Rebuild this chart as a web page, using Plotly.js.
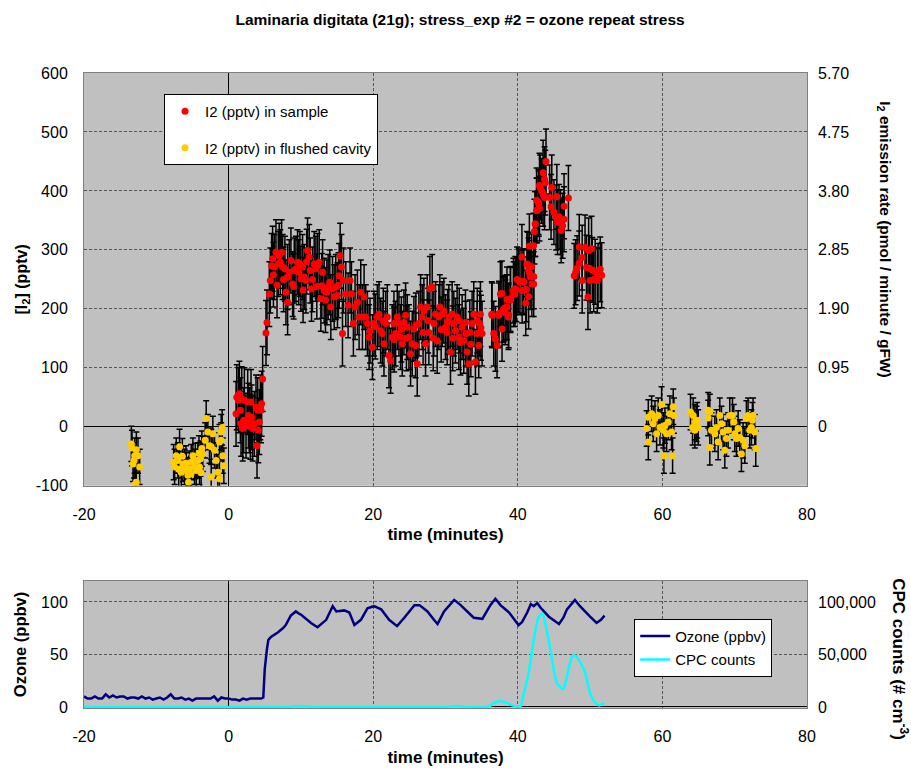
<!DOCTYPE html>
<html><head><meta charset="utf-8">
<script src="https://cdn.plot.ly/plotly-3.0.1.min.js"></script>
<style>html,body{margin:0;padding:0;background:#fff}#chart{width:911px;height:768px}</style>
</head><body><div id="chart"></div>
<script>
const FONT = '"Liberation Sans", Arial, sans-serif';

// ---- I2 in sample (pptv) ----
const sampleTime = [
 1.03,1.13,1.36,1.49,1.63,1.72,1.82,1.95,2.09,2.18,2.41,2.64,2.74,2.87,3.01,3.10,3.19,3.33,3.56,3.79,3.93,4.02,4.11,4.25,4.39,4.48,4.57,4.71,
 5.17,5.31,5.63,5.77,5.95,6.09,6.32,6.55,6.87,7.15,7.33,7.47,7.79,7.93,8.16,8.16,8.62,8.85,9.08,9.31,9.54,9.86,10.0,10.23,10.46,10.69,10.92,11.15,11.29,11.47,11.84,12.07,12.30,12.53,12.76,12.90,13.22,13.59,13.77,14.14,14.37,14.83,15.06,15.29,15.43,15.61,15.75,15.89,16.21,16.53,16.80,16.99,17.26,17.49,17.82,18.05,18.28,18.51,18.74,18.97,19.20,19.43,19.56,19.89,20.11,20.57,20.80,21.03,21.26,21.49,21.72,21.95,
 22.18,22.41,22.64,22.87,23.10,23.33,23.56,23.79,24.02,24.25,24.48,24.71,24.94,25.17,25.40,25.63,25.86,26.09,26.32,26.55,26.78,27.01,27.24,27.47,27.70,27.84,28.16,28.39,28.62,28.85,29.08,29.22,29.54,29.77,30.00,30.23,30.46,30.69,30.92,31.15,31.38,31.61,31.84,32.07,32.30,32.53,32.76,32.99,33.22,33.36,33.68,33.91,34.14,34.37,34.60,34.74,34.83,35.06,
 36.44,36.67,36.90,37.13,37.36,37.59,37.82,38.05,38.28,38.51,38.74,38.97,39.43,39.66,40.11,40.57,40.80,41.26,41.49,41.72,41.95,42.18,42.41,42.64,42.87,43.10,
 43.9,43.5,43.7,43.8,43.0,43.3,43.5,43.7,44.4,44.7,45.4,42.6,42.9,42.6,43.0,44.6,45.0,45.3,45.7,46.4,45.9,45.5,46.2,46.0,47.0,46.4,42.4,42.3,41.6,
 48.5,49.3,49.8,50.2,48.9,48.5,48.2,48.0,47.8,49.5,49.9,50.3,50.7,51.4,51.6,51.1,50.5,51.0,50.0,48.9,49.7,
 39.9,40.3,40.8,39.8,40.6,41.2,39.4,39.6,41.5,41.1,37.8,38.5,39.0,38.3,38.0,38.7,37.4,36.4,41.4,41.9,41.6,42.2,42.2,
 6.2,6.7,7.0,7.6,8.4,9.0,9.7,10.3,10.8,11.6,12.2,13.0,13.4,14.0,14.6,15.2,
 20.3,21.4,22.9,23.9,24.6,25.9,26.9,27.6,28.3,29.4,30.3,31.0,31.9,32.8,33.5,34.4,34.9
];
const sampleI2 = [
 22,50,45,56,28,5,47,-3,11,45,2,42,19,11,0,42,16,-3,5,33,-32,28,-6,8,33,28,39,81,
 159,177,225,248,273,285,271,296,276,279,296,271,268,228,254,211,282,242,265,268,279,276,251,271,254,248,299,288,265,234,276,268,273,279,217,239,231,228,237,203,234,237,223,256,290,271,158,248,225,206,248,225,175,203,211,186,228,186,220,186,175,152,163,135,175,186,191,163,158,141,175,186,
 121,112,152,175,158,186,175,152,141,177,189,169,152,124,141,166,138,107,175,203,186,197,141,203,160,234,237,175,191,146,186,203,191,197,169,160,186,127,191,175,163,186,152,143,169,146,177,127,107,160,175,191,110,158,138,175,191,158,
 189,158,149,138,189,225,166,200,194,203,189,217,225,234,248,288,245,276,265,254,242,307,344,367,381,406,
 450,431,420,414,409,400,395,389,389,406,390,384,378,367,370,373,364,355,356,352,347,347,341,333,388,374,344,331,306,
 305,304,299,302,287,277,269,262,256,270,269,266,263,267,257,256,250,248,248,248,220,
 250,245,247,233,231,233,231,225,221,210,226,216,215,202,198,186,192,191,275,272,261,255,242,
 258,240,290,250,262,238,262,232,280,250,238,262,215,245,220,240,
 170,180,148,165,150,172,160,180,150,165,178,150,180,158,140,180,168
];
const sampleErr = 55;

// ---- I2 in flushed cavity (pptv) ----
const cavityTime = [
 -13.45,-13.36,-12.76,-12.99,-12.53,-13.08,-13.22,-12.30,-12.76,-12.90,
 -7.47,-7.24,-7.01,-6.78,-6.55,-6.32,-6.09,-5.86,-5.63,-5.54,-5.40,-5.17,-4.94,-4.71,-4.48,-4.25,-4.02,-3.89,-3.70,-3.56,
 -7.6,-6.9,-6.4,-5.9,-5.2,-4.6,-4.1,-3.8,
 -3.24,-3.10,-2.87,-2.64,-2.41,-2.18,-2.41,-1.95,-1.72,-1.49,-1.26,-1.26,-1.03,-0.89,-0.80,-0.66,-1.03,
 57.82,58.05,58.05,58.51,58.74,58.97,59.20,59.43,59.66,59.89,60.12,60.21,60.35,60.58,60.81,61.04,61.27,61.41,61.50,61.59,
 63.89,64.26,64.49,64.72,64.17,64.95,64.49,64.81,
 66.33,66.56,66.33,66.79,67.25,67.48,67.94,68.17,66.56,67.71,68.40,68.63,68.86,69.09,69.32,69.69,69.87,70.01,70.24,70.47,70.70,70.93,71.16,71.39,71.62,71.85,72.08,72.31,72.54,72.77,72.91,72.45
];
const cavityI2 = [
 -29,-36,-39,-49,-49,-57,-63,-68,-94,-97,
 -68,-49,-57,-34,-77,-63,-68,-74,-82,-94,-71,-60,-49,-68,-74,-57,-68,-54,-37,-46,
 -60,-72,-50,-62,-80,-58,-45,-78,
 -23,14,-9,-32,-34,-12,-85,-40,-57,-77,-88,-26,-9,-1,-49,-66,-23,
 -3,16,-26,22,5,14,-12,19,-1,38,-6,-49,2,-12,8,22,-9,-49,34,19,
 25,19,8,5,-1,-1,-6,11,
 28,25,15,-6,-12,-1,19,5,-35,-26,-9,-40,-20,-6,19,19,8,-12,-20,-3,-18,-46,-23,-32,14,19,-6,-1,19,-9,-37,11
];
const cavityErr = 30;

// ---- Ozone (ppbv) ----
const ozoneTime = [
 -20,-19.5,-19,-18.5,-18,-17.5,-17,-16.5,-16,-15.5,-15,-14.5,-14,-13.5,-13,-12.5,-12,-11.5,-11,-10.5,
 -10,-9.5,-9,-8.5,-8,-7.5,-7,-6.5,-6,-5.5,-5,-4.5,-4,-3.5,-3,-2.5,-2,-1.5,-1,-0.5,
 0,0.5,1,1.5,2,2.5,3,3.5,4,4.5,4.8,5.0,5.3,5.5,5.9,6.8,7.5,7.9,8.6,9.3,9.7,
 10.0,11.4,12.3,13.5,14.4,14.9,16.0,16.7,17.4,18.3,19.2,20.1,21.1,22.2,23.3,24.3,25.7,26.4,27.5,28.4,28.9,29.8,
 31.2,32.1,33.0,33.9,35.1,36.2,36.9,37.6,38.8,40.1,40.6,41.3,41.8,42.2,42.7,43.1,44.3,45.7,46.3,46.8,47.9,48.6,50.0,50.9,51.5,52.0
];
const ozonePpbv = [
 10,8,8,10,8,8,12,9,11,9,10,10,8,9,9,8,10,8,9,7,
 8,9,7,9,12,8,8,9,7,8,6,8,8,8,8,8,10,6,9,8,
 8,7,7,6,8,7,8,8,8,8,9,36,55,64,67,71,75,78,87,91,89,
 88,80,76,83,96,91,92,90,78,83,94,96,93,83,77,85,97,97,91,83,79,91,
 102,97,91,85,84,97,103,97,90,78,81,90,98,96,99,95,86,79,85,93,102,96,86,80,83,87
];

// ---- CPC counts (# cm-3) ----
const cpcTime = [-20,8,10,12,30,31.5,33,36,36.8,37.6,38.4,39.2,40.0,40.4,40.8,41.5,42.2,42.9,43.4,43.8,44.5,45.4,46.3,46.8,47.5,47.9,48.6,49.3,50.0,50.7,51.2,51.6,52.0];
const cpcCounts = [0,0,1000,0,0,1000,0,500,4000,5700,4000,1500,500,800,12000,32000,64000,86000,89000,80000,55000,23000,17000,29000,48000,49000,43000,33000,13000,4000,1500,2500,3500];

// ---- axes ----
const timeRange = [-20, 80];
const timeTicks = [-20, 0, 20, 40, 60, 80];
const timeLabels = ['-20', '0', '20', '40', '60', '80'];
const i2Range = [-100, 600];
const i2Ticks = [-100, 0, 100, 200, 300, 400, 500, 600];
const i2Labels = ['-100', '0', '100', '200', '300', '400', '500', '600'];
const rateTicks = [0, 0.95, 1.90, 2.85, 3.80, 4.75, 5.70];
const rateLabels = ['0', '0.95', '1.90', '2.85', '3.80', '4.75', '5.70'];
const rateRange = [-0.95, 5.70];
const ozoneRange = [-1, 120];
const ozoneTicks = [0, 50, 100];
const cpcRange = [-1000, 120000];
const cpcTicks = [0, 50000, 100000];
const cpcLabels = ['0', '50,000', '100,000'];

const GRID = '#555555';
const tickFont = {family: FONT, size: 16, color: '#000'};
const gridAxis = {
  showgrid: true, gridcolor: GRID, gridwidth: 1, griddash: '3px,2px',
  showline: true, linecolor: '#808080', linewidth: 1, mirror: true,
  ticks: '', tickfont: tickFont, zeroline: true, zerolinecolor: '#000', zerolinewidth: 1
};

const traces = [
  {x: cavityTime, y: cavityI2, type: 'scatter', mode: 'markers', xaxis: 'x', yaxis: 'y', showlegend: false,
   marker: {color: '#FFCC00', size: 7},
   error_y: {type: 'constant', value: cavityErr, color: '#000', thickness: 1.5, width: 3}},
  {x: sampleTime, y: sampleI2, type: 'scatter', mode: 'markers', xaxis: 'x', yaxis: 'y', showlegend: false,
   marker: {color: '#FF0000', size: 7},
   error_y: {type: 'constant', value: sampleErr, color: '#000', thickness: 1.5, width: 3}},
  {x: [null], y: [null], type: 'scatter', mode: 'markers', name: 'I2 (pptv) in sample', legendgroup: 'a',
   marker: {color: '#FF0000', size: 7}, xaxis: 'x', yaxis: 'y'},
  {x: [null], y: [null], type: 'scatter', mode: 'markers', name: 'I2 (pptv) in flushed cavity', legendgroup: 'b',
   marker: {color: '#FFCC00', size: 7}, xaxis: 'x', yaxis: 'y'},
  {x: [null], y: [null], type: 'scatter', mode: 'markers', showlegend: false, xaxis: 'x', yaxis: 'y2', hoverinfo: 'skip'},
  {x: ozoneTime, y: ozonePpbv, type: 'scatter', mode: 'lines', name: 'Ozone (ppbv)', legend: 'legend2', legendgroup: 'c',
   line: {color: '#000080', width: 2.5}, xaxis: 'x2', yaxis: 'y3'},
  {x: cpcTime, y: cpcCounts, type: 'scatter', mode: 'lines', name: 'CPC counts', legend: 'legend2', legendgroup: 'd',
   line: {color: '#00FFFF', width: 2.5, shape: 'spline', smoothing: 0.6}, xaxis: 'x2', yaxis: 'y4'}
];

const layout = {
  width: 911, height: 768,
  paper_bgcolor: '#fff', plot_bgcolor: '#C0C0C0',
  font: {family: FONT, color: '#000'},
  margin: {l: 84, r: 104, t: 73, b: 60},
  title: {text: '<b>Laminaria digitata (21g); stress_exp #2 = ozone repeat stress</b>',
          font: {family: FONT, size: 15.5}, x: 0.505, xref: 'container', y: 0.975, yref: 'container', yanchor: 'middle'},
  xaxis: Object.assign({}, gridAxis, {domain: [0, 1], anchor: 'y', range: timeRange, tickvals: timeTicks, ticktext: timeLabels,
    ticklabelstandoff: 14,
    title: {text: '<b>time (minutes)</b>', font: {family: FONT, size: 17}, standoff: 6}}),
  yaxis: Object.assign({}, gridAxis, {domain: [0.35, 1], anchor: 'x', range: i2Range, tickvals: i2Ticks, ticktext: i2Labels,
    ticklabelstandoff: 12,
    title: {text: '<b>[I<sub>2</sub>] (pptv)</b>', font: {family: FONT, size: 16}, standoff: 4}}),
  yaxis2: {overlaying: 'y', side: 'right', anchor: 'x', range: rateRange, tickvals: rateTicks, ticktext: rateLabels,
    showgrid: false, zeroline: false, showline: false, ticks: '', tickfont: tickFont, ticklabelstandoff: 10},
  xaxis2: Object.assign({}, gridAxis, {domain: [0, 1], anchor: 'y3', range: timeRange, tickvals: timeTicks, ticktext: timeLabels,
    ticklabelstandoff: 14,
    title: {text: '<b>time (minutes)</b>', font: {family: FONT, size: 17}, standoff: 6}}),
  yaxis3: Object.assign({}, gridAxis, {domain: [0, 0.2], anchor: 'x2', range: ozoneRange, tickvals: ozoneTicks,
    ticklabelstandoff: 12,
    title: {text: '<b>Ozone (ppbv)</b>', font: {family: FONT, size: 16.5}, standoff: 10}}),
  yaxis4: {overlaying: 'y3', side: 'right', anchor: 'x2', range: cpcRange, tickvals: cpcTicks, ticktext: cpcLabels,
    showgrid: false, zeroline: false, showline: false, ticks: '', tickfont: tickFont, ticklabelstandoff: 10},
  legend: {x: 0.1107, y: 0.967, xanchor: 'left', yanchor: 'top', bgcolor: '#fff', bordercolor: '#000', borderwidth: 1,
    font: {family: FONT, size: 15}, traceorder: 'grouped', tracegroupgap: 14},
  legend2: {x: 0.761, y: 0.1404, xanchor: 'left', yanchor: 'top', bgcolor: '#fff', bordercolor: '#000', borderwidth: 1,
    font: {family: FONT, size: 15}, traceorder: 'grouped', tracegroupgap: 1},
  annotations: [
    {text: '<b>I<sub>2</sub> emission rate (pmol / minute / gFW)</b>', xref: 'paper', yref: 'paper',
     x: 1.108, y: 0.738, xanchor: 'center', yanchor: 'middle', textangle: 90, showarrow: false, font: {family: FONT, size: 15.5}},
    {text: '<b>CPC counts (# cm<sup>-3</sup>)</b>', xref: 'paper', yref: 'paper',
     x: 1.1286, y: 0.077, xanchor: 'center', yanchor: 'middle', textangle: 90, showarrow: false, font: {family: FONT, size: 17}}
  ],
  showlegend: true
};

Plotly.newPlot('chart', traces, layout, {displayModeBar: false, staticPlot: true});
</script>
</body></html>
